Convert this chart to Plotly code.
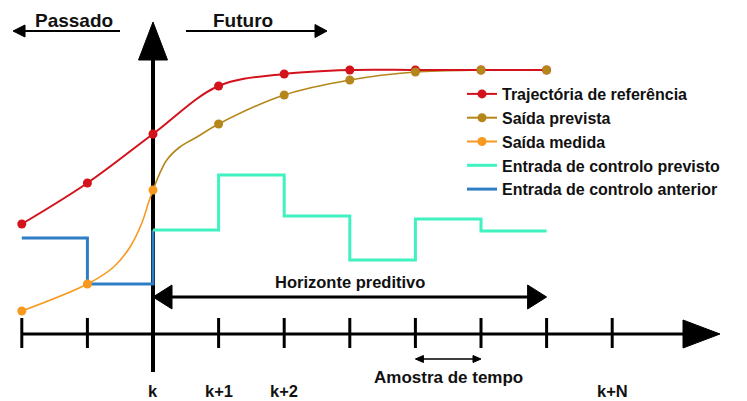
import plotly.graph_objects as go

# ---------------- data ----------------
ref_steps = [-2, -1, 0, 1, 2, 3, 4, 5, 6]
ref_values = [11.0, 15.1, 20.0, 24.8, 26.0, 26.4, 26.4, 26.4, 26.4]

pred_steps = [1, 2, 3, 4, 5, 6]
pred_values = [21.0, 23.9, 25.4, 26.2, 26.4, 26.4]
pred_curve_t = [0, 0.21, 0.41, 0.67, 1, 2, 3, 4, 5, 6]
pred_curve_v = [14.4, 17.4, 18.7, 19.7, 21.0, 23.9, 25.4, 26.2, 26.4, 26.4]

meas_steps = [-2, -1, 0]
meas_values = [2.3, 5.0, 14.4]
meas_curve_t = [-2, -1, -0.6, -0.35, -0.17, -0.07, 0]
meas_curve_v = [2.3, 5.0, 6.7, 8.7, 11.1, 13.1, 14.4]

u_prev_steps = [-2, -1, 0]
u_prev_values = [9.6, 5.0, 10.4]

u_pred_steps = [0, 1, 2, 3, 4, 5, 6]
u_pred_values = [10.4, 15.9, 11.8, 7.4, 11.5, 10.3, 10.3]

tick_steps = [-2, -1, 0, 1, 2, 3, 4, 5, 6, 7]
label_steps = [0, 1, 2, 7]
tick_labels = ["k", "k+1", "k+2", "k+N"]
horizon_steps = [0, 6]
sample_steps = [4, 5]

# ---------------- styling ----------------
WIN_W, WIN_H = 747, 401
PAGE_MARGIN = 8     # default body margin of the html page
W, H = WIN_W - PAGE_MARGIN, WIN_H - PAGE_MARGIN
PX_STEP = 65.6      # pixels per sample step
X0_PX = 153         # window column of step k
Y0_PX = 334         # window row of the time axis
PX_UNIT = 10.0      # pixels per value unit

def dx(px):  # pixel length -> x data length
    return px / PX_STEP

def dy(px):
    return px / PX_UNIT

def xp(px):  # window column -> x data
    return (px - X0_PX) / PX_STEP

def yp(py):  # window row -> y data
    return (Y0_PX - py) / PX_UNIT

RED = "#d3121c"
GOLD = "#b5861a"
ORANGE = "#f7991f"
CYAN = "#3ff2c0"
BLUE = "#2f7dc5"
BLACK = "#000000"
FONT = "Liberation Sans, Arial, sans-serif"

fig = go.Figure()

# control inputs
fig.add_trace(go.Scatter(x=u_prev_steps, y=u_prev_values, mode="lines", line_shape="hv",
                         line=dict(color=BLUE, width=3), name="Entrada de controlo anterior",
                         legendrank=5))
fig.add_trace(go.Scatter(x=u_pred_steps, y=u_pred_values, mode="lines", line_shape="hv",
                         line=dict(color=CYAN, width=3), name="Entrada de controlo previsto",
                         legendrank=4))

# predicted output curve
fig.add_trace(go.Scatter(x=pred_curve_t, y=pred_curve_v, mode="lines", line_shape="spline",
                         line=dict(color=GOLD, width=1.6), showlegend=False, hoverinfo="skip"))
# measured output curve
fig.add_trace(go.Scatter(x=meas_curve_t, y=meas_curve_v, mode="lines", line_shape="spline",
                         line=dict(color=ORANGE, width=1.6), showlegend=False, hoverinfo="skip"))
# reference trajectory
fig.add_trace(go.Scatter(x=ref_steps, y=ref_values, mode="lines+markers", line_shape="spline",
                         line=dict(color=RED, width=2), marker=dict(color=RED, size=9),
                         name="Trajectória de referência", legendrank=1))
# predicted output markers
fig.add_trace(go.Scatter(x=pred_steps, y=pred_values, mode="markers",
                         marker=dict(color=GOLD, size=9), showlegend=False))
# measured output markers
fig.add_trace(go.Scatter(x=meas_steps, y=meas_values, mode="markers",
                         marker=dict(color=ORANGE, size=9), showlegend=False))
# legend entries
fig.add_trace(go.Scatter(x=[None], y=[None], mode="lines+markers",
                         line=dict(color=GOLD, width=2), marker=dict(color=GOLD, size=9),
                         name="Saída prevista", legendrank=2))
fig.add_trace(go.Scatter(x=[None], y=[None], mode="lines+markers",
                         line=dict(color=ORANGE, width=2), marker=dict(color=ORANGE, size=9),
                         name="Saída medida", legendrank=3))

shapes = []

def line(x0, y0, x1, y1, w, color=BLACK):
    shapes.append(dict(type="line", x0=x0, y0=y0, x1=x1, y1=y1, xref="x", yref="y",
                       line=dict(color=color, width=w), layer="below"))

def tri(pts, color=BLACK):
    path = "M{},{} L{},{} L{},{} Z".format(*[v for p in pts for v in p])
    shapes.append(dict(type="path", path=path, xref="x", yref="y", fillcolor=color,
                       line=dict(color=color, width=1), layer="below"))

# time axis
t_start = xp(21)
t_tip = xp(720)
t_base = t_tip - dx(37)
line(t_start, 0, t_base + dx(2), 0, 3)
tri([(t_tip, 0), (t_base, dy(14)), (t_base, -dy(14))])
for t in tick_steps:
    line(t, dy(16), t, -dy(14), 3)

# vertical axis at step k
v_tip = yp(22)
v_base = v_tip - dy(38)
line(0, yp(372), 0, v_base + dy(2), 4)
tri([(0, v_tip), (-dx(14.5), v_base), (dx(14.5), v_base)])

# prediction horizon arrow
hy = yp(297)
h0, h1 = horizon_steps
line(h0 + dx(10), hy, h1 - dx(10), hy, 3)
tri([(h0, hy), (h0 + dx(19), hy + dy(12)), (h0 + dx(19), hy - dy(12))])
tri([(h1, hy), (h1 - dx(19), hy + dy(12)), (h1 - dx(19), hy - dy(12))])

# sample time arrow
sy = yp(359)
s0, s1 = sample_steps
line(s0 + dx(3), sy, s1 - dx(3), sy, 1.5)
tri([(s0, sy), (s0 + dx(8), sy + dy(3.5)), (s0 + dx(8), sy - dy(3.5))])
tri([(s1, sy), (s1 - dx(8), sy + dy(3.5)), (s1 - dx(8), sy - dy(3.5))])

# Passado / Futuro arrows
ay = yp(31)
p_tip, p_end = xp(13), xp(120)
line(p_tip + dx(6), ay, p_end, ay, 2)
tri([(p_tip, ay), (p_tip + dx(12), ay + dy(6)), (p_tip + dx(12), ay - dy(6))])
f_start, f_tip = xp(186), xp(327)
line(f_start, ay, f_tip - dx(6), ay, 2)
tri([(f_tip, ay), (f_tip - dx(12), ay + dy(6.5)), (f_tip - dx(12), ay - dy(6.5))])

annotations = []

def text(x, y, s, size):
    annotations.append(dict(x=x, y=y, xref="x", yref="y", text=s, showarrow=False,
                            font=dict(family=FONT, size=size, color="#111111", weight="bold"),
                            xanchor="center", yanchor="middle"))

text(xp(74), yp(20), "Passado", 19)
text(xp(243), yp(20), "Futuro", 19)
text(sum(horizon_steps) / 2, yp(282), "Horizonte preditivo", 16.5)
text(sum(sample_steps) / 2, yp(377), "Amostra de tempo", 17)
for t, lab in zip(label_steps, tick_labels):
    text(t, yp(391), lab, 16.5)

fig.update_layout(
    width=W, height=H, autosize=False,
    margin=dict(l=0, r=0, t=0, b=0),
    paper_bgcolor="white", plot_bgcolor="white",
    xaxis=dict(range=[xp(PAGE_MARGIN), xp(WIN_W)], visible=False, fixedrange=True),
    yaxis=dict(range=[yp(WIN_H), yp(PAGE_MARGIN)], visible=False, fixedrange=True),
    shapes=shapes, annotations=annotations,
    showlegend=True,
    legend=dict(x=(462 - PAGE_MARGIN) / W, y=1 - (77 - PAGE_MARGIN) / H,
                xanchor="left", yanchor="top",
                bgcolor="rgba(0,0,0,0)", borderwidth=0,
                font=dict(family=FONT, size=16, color="#111111", weight="bold"),
                itemwidth=30, traceorder="normal"),
)

fig.write_html("out.html")
